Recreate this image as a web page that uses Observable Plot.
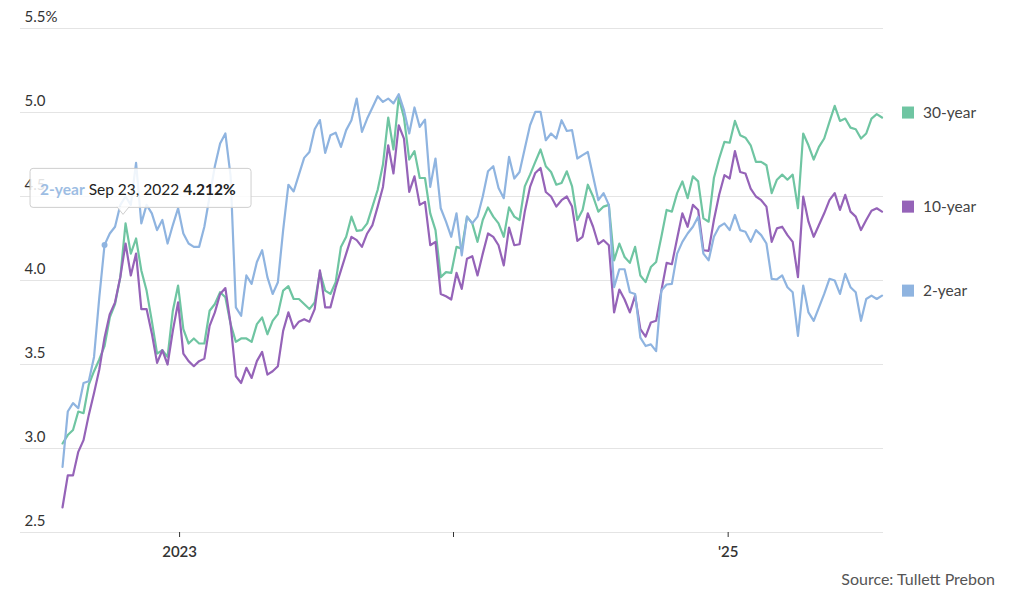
<!DOCTYPE html>
<html>
<head>
<meta charset="utf-8">
<script src="https://cdn.jsdelivr.net/npm/d3@7"></script>
<script src="https://cdn.jsdelivr.net/npm/@observablehq/plot@0.6"></script>
<style>
  html, body { margin: 0; padding: 0; background: #fff; }
  #chart { position: relative; width: 1021px; height: 598px; font-family: Lato, "Open Sans", sans-serif; }
  #chart svg { display: block; }
  #source { position: absolute; right: 26px; top: 569px; font-size: 16px; color: #555; font-family: Lato, sans-serif; }
</style>
</head>
<body>
<div id="chart">
  <div id="source">Source: Tullett Prebon</div>
</div>
<script>
// Weekly yields, one reading per Friday starting 29 Jul 2022 (percent)
const firstFriday = "2022-07-29";

const yield30 = [
  3.03,3.08,3.11,3.22,3.21,3.38,3.46,3.53,3.61,3.78,
  3.86,4.02,4.34,4.16,4.25,4.06,3.94,3.76,3.565,3.585,
  3.545,3.82,3.97,3.71,3.625,3.655,3.625,3.625,3.82,3.86,
  3.93,3.90,3.74,3.635,3.655,3.655,3.635,3.74,3.78,3.68,
  3.76,3.80,3.94,3.966,3.89,3.89,3.86,3.83,3.87,4.05,
  3.94,3.92,3.99,4.20,4.26,4.38,4.295,4.30,4.34,4.44,
  4.54,4.69,4.97,4.78,5.09,4.97,4.72,4.77,4.61,4.61,
  4.40,4.30,4.02,4.05,4.045,4.20,4.19,4.38,4.34,4.23,
  4.36,4.435,4.38,4.34,4.26,4.435,4.38,4.36,4.56,4.63,
  4.706,4.78,4.68,4.646,4.57,4.58,4.65,4.56,4.36,4.42,
  4.57,4.50,4.41,4.44,4.45,4.12,4.22,4.14,4.105,4.20,
  4.03,3.99,4.08,4.11,4.26,4.42,4.41,4.52,4.59,4.49,
  4.62,4.59,4.37,4.35,4.61,4.726,4.825,4.82,4.95,4.865,
  4.85,4.805,4.706,4.706,4.686,4.52,4.60,4.63,4.60,4.63,
  4.43,4.875,4.805,4.72,4.795,4.845,4.944,5.04,4.95,4.964,
  4.91,4.90,4.845,4.875,4.964,4.99,4.97
];

const yield10 = [
  2.65,2.84,2.84,2.98,3.05,3.20,3.33,3.47,3.66,3.80,
  3.87,4.02,4.22,4.03,4.16,3.83,3.83,3.685,3.51,3.585,
  3.50,3.70,3.87,3.565,3.52,3.49,3.52,3.535,3.73,3.81,
  3.92,3.955,3.74,3.43,3.39,3.48,3.42,3.52,3.575,3.44,
  3.46,3.49,3.70,3.81,3.715,3.755,3.77,3.755,3.83,4.06,
  3.84,3.84,3.96,4.06,4.16,4.26,4.24,4.20,4.28,4.33,
  4.44,4.557,4.805,4.637,4.924,4.845,4.527,4.62,4.45,4.468,
  4.21,4.23,3.92,3.906,3.887,4.045,3.95,4.13,4.145,4.03,
  4.16,4.28,4.26,4.21,4.09,4.315,4.21,4.216,4.41,4.557,
  4.64,4.67,4.527,4.50,4.44,4.478,4.50,4.44,4.236,4.26,
  4.40,4.32,4.216,4.24,4.21,3.81,3.946,3.887,3.81,3.91,
  3.71,3.666,3.75,3.76,3.94,4.105,4.097,4.25,4.40,4.32,
  4.45,4.42,4.18,4.176,4.36,4.51,4.627,4.607,4.77,4.646,
  4.637,4.547,4.50,4.478,4.44,4.23,4.31,4.32,4.27,4.23,
  4.02,4.50,4.35,4.26,4.33,4.40,4.478,4.52,4.42,4.51,
  4.41,4.38,4.30,4.36,4.415,4.43,4.41
];

const yield2 = [
  2.89,3.22,3.27,3.24,3.39,3.40,3.545,3.90,4.212,4.28,
  4.32,4.45,4.50,4.45,4.70,4.34,4.45,4.40,4.30,4.36,
  4.22,4.33,4.43,4.28,4.22,4.20,4.20,4.32,4.50,4.68,
  4.815,4.875,4.62,3.84,3.79,4.03,3.98,4.11,4.18,4.02,
  3.92,3.99,4.30,4.57,4.53,4.63,4.73,4.765,4.90,4.955,
  4.76,4.865,4.88,4.795,4.895,4.954,5.083,4.885,4.964,5.03,
  5.097,5.063,5.083,5.054,5.109,5.014,4.875,5.03,4.914,4.958,
  4.557,4.726,4.43,4.35,4.26,4.40,4.15,4.38,4.34,4.38,
  4.50,4.65,4.68,4.55,4.49,4.736,4.607,4.646,4.786,4.924,
  5.004,5.004,4.835,4.875,4.845,4.954,4.89,4.895,4.726,4.746,
  4.765,4.62,4.478,4.52,4.45,3.96,4.067,4.067,3.93,3.92,
  3.66,3.61,3.62,3.58,3.94,3.976,3.98,4.16,4.23,4.28,
  4.32,4.38,4.16,4.12,4.26,4.32,4.34,4.30,4.39,4.30,
  4.29,4.23,4.30,4.27,4.22,4.01,4.006,4.03,3.96,3.93,
  3.67,3.97,3.81,3.76,3.84,3.92,4.01,4.00,3.92,4.04,
  3.96,3.93,3.76,3.89,3.91,3.89,3.91
];

const seriesNames = ["30-year", "10-year", "2-year"];
const seriesColors = ["#6fc5a2", "#9563b8", "#8fb4e0"];

const yTicks = [2.5, 3.0, 3.5, 4.0, 4.5, 5.0, 5.5];
const yTickLabels = ["2.5", "3.0", "3.5", "4.0", "4.5", "5.0", "5.5%"];

const xTickYears = [2023, 2024, 2025];
const xTickLabels = ["2023", "", "'25"];

// Highlighted reading shown in the hover card
const tipSeries = "2-year";
const tipDateLabel = "Sep 23, 2022";
const tipIndex = 8;
const tipValue = 4.212;

// ---- build tidy rows ----
const start = new Date(firstFriday + "T00:00:00Z");
const dates = yield30.map((_, i) => d3.utcDay.offset(start, 7 * i));
const seriesValues = [yield30, yield10, yield2];
const rows = seriesNames.map((name, s) =>
  seriesValues[s].map((v, i) => ({series: name, date: dates[i], value: v}))
);
const lastRows = rows.map((r, s) => ({...r[r.length - 1], color: seriesColors[s]}));
const yTickRows = yTicks.map((v, i) => ({value: v, label: yTickLabels[i]}));
const xTickDates = xTickYears.map(y => new Date(Date.UTC(y, 0, 1)));
const tipRow = {date: dates[tipIndex], value: tipValue};

const chart = Plot.plot({
  width: 1021,
  height: 566,
  marginLeft: 20,
  marginRight: 138,
  marginTop: 28,
  marginBottom: 34,
  style: {fontFamily: "Lato, 'Open Sans', sans-serif", color: "#333", background: "#fff"},
  x: {type: "utc", domain: [new Date("2022-06-03T00:00:00Z"), new Date("2025-07-27T00:00:00Z")]},
  y: {domain: [2.5, 5.5], axis: null},
  marks: [
    Plot.ruleY(yTickRows, {y: "value", stroke: "#e4e4e4", strokeWidth: 1.2}),
    Plot.text(yTickRows, {
      y: "value", text: "label", frameAnchor: "left", textAnchor: "start",
      lineAnchor: "bottom", dx: 4, dy: -7, fontSize: 15, fill: "#333"
    }),
    Plot.axisX({
      ticks: xTickDates,
      tickFormat: d => xTickLabels[xTickYears.indexOf(d.getUTCFullYear())],
      tickSize: 5, tickPadding: 9, fontSize: 15, fontWeight: 600,
      stroke: "#333", fill: "#333", label: null
    }),
    ...rows.map((r, s) => Plot.line(r, {
      x: "date", y: "value", stroke: seriesColors[s], strokeWidth: 2.2,
      strokeLinejoin: "round", strokeLinecap: "round"
    })),
    Plot.dot([tipRow], {x: "date", y: "value", r: 3, fill: seriesColors[2]}),
    Plot.dot(lastRows, {
      x: "date", y: "value", symbol: "square", r: 6.8, fill: "color",
      dx: 26, dy: -5
    }),
    Plot.text(lastRows, {
      x: "date", y: "value", text: "series", textAnchor: "start",
      dx: 41, dy: -5, fontSize: 15.5, fill: "#444"
    })
  ]
});

document.getElementById("chart").prepend(chart);

// Hover card for the highlighted reading, positioned from the chart's scales
const sx = chart.scale("x"), sy = chart.scale("y");
const px = sx.apply(tipRow.date), py = sy.apply(tipRow.value);
const card = d3.select(chart).append("g").attr("class", "hover-card");
const bx = px - 74, by = py - 76, bw = 221, bh = 39;
card.append("rect")
  .attr("x", bx).attr("y", by).attr("width", bw).attr("height", bh)
  .attr("rx", 3).attr("fill", "#fff").attr("fill-opacity", 0.86)
  .attr("stroke", "#cfcfcf");
card.append("path")
  .attr("d", `M${bx + 87},${by + bh - 0.5} L${bx + 93},${by + bh + 7} L${bx + 99},${by + bh - 0.5}`)
  .attr("fill", "#fff").attr("fill-opacity", 0.86).attr("stroke", "#cfcfcf");
const label = card.append("text")
  .attr("x", bx + 10).attr("y", by + 26.5)
  .attr("text-anchor", "start")
  .attr("font-family", "Lato, sans-serif").attr("font-size", 15.5);
label.append("tspan").attr("font-weight", 700).attr("fill", "#9dbde3").text(tipSeries);
label.append("tspan").attr("fill", "#222").text(" " + tipDateLabel + " ");
label.append("tspan").attr("font-weight", 700).attr("fill", "#222").text(tipValue.toFixed(3) + "%");
</script>
</body>
</html>
